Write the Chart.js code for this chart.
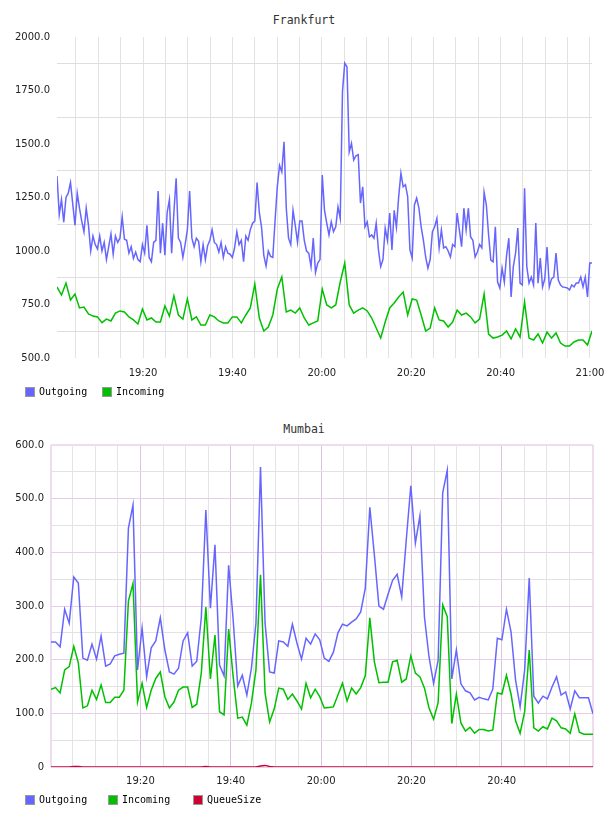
<!DOCTYPE html>
<html>
<head>
<meta charset="utf-8">
<title>Frankfurt / Mumbai traffic</title>
<script src="https://cdn.jsdelivr.net/npm/chart.js@4.4.0/dist/chart.umd.min.js"></script>
<style>
    body { margin: 0; background: #fff; width: 608px; height: 816px; position: relative; overflow: hidden; }
    .panel { position: absolute; left: 0; }
    .title { position: absolute; left: 0; width: 608px; text-align: center; line-height: 14px;
             font: 11.5px "DejaVu Sans Mono", monospace; color: #333; }
    .legend-item { position: absolute; line-height: 12px; font: 10px "DejaVu Sans Mono", monospace; color: #000; white-space: nowrap; }
    .legend-box { position: absolute; width: 8px; height: 8px; border: 1px solid #999; }
</style>
</head>
<body>
<div class="title" style="top:13px">Frankfurt</div>
<canvas id="frankfurt" class="panel" style="top:0" width="608" height="405"></canvas>
<div id="frankfurtLegend"></div>

<div class="title" style="top:422px">Mumbai</div>
<canvas id="mumbai" class="panel" style="top:405px" width="608" height="411"></canvas>
<div id="mumbaiLegend"></div>

<script>
// Time axis is in minutes after 19:00
const xLabelMinutes = [20, 40, 60, 80, 100, 120];
const xLabelTexts = ['19:20', '19:40', '20:00', '20:20', '20:40', '21:00'];

// Frankfurt: samples spread evenly between these two times
const frankStart = 0.75;
const frankEnd = 120.45;

const frankOutgoing = [
    1350, 1170, 1240, 1135, 1250, 1270, 1320, 1220, 1120, 1270,
    1200, 1140, 1090, 1200, 1120, 1000, 1070, 1030, 1010, 1070,
    1000, 1040, 960, 1020, 1080, 985, 1070, 1040, 1060, 1160,
    1055, 1050, 990, 1020, 965, 995, 960, 950, 1030, 990,
    1120, 970, 950, 1040, 1050, 1280, 990, 1130, 980, 1180,
    1240, 990, 1180, 1340, 1060, 1040, 970, 1030, 1100, 1280,
    1060, 1020, 1060, 1045, 950, 1030, 960, 1025, 1050, 1100,
    1040, 1030, 995, 1040, 970, 1020, 990, 985, 970, 1015,
    1090, 1030, 1050, 950, 1070, 1050, 1100, 1130, 1140, 1320,
    1180, 1110, 980, 930, 1000, 975, 970, 1140, 1300, 1400,
    1370, 1510, 1200, 1060, 1030, 1190, 1120, 1040, 1140, 1140,
    1050, 1000, 990, 927, 1060, 900, 944, 960, 1355, 1190,
    1130, 1075, 1136, 1090, 1113, 1206, 1152, 1745, 1878, 1860,
    1463, 1503, 1425, 1445, 1450, 1224, 1300, 1113, 1136, 1066,
    1075, 1060, 1130, 1005, 927, 960, 1107, 1050, 1177, 1005,
    1190, 1110, 1254, 1364, 1300, 1310, 1254, 1005, 967, 1215,
    1247, 1200, 1113, 1050, 972, 920, 960, 1090, 1113, 1152,
    1014, 1098, 1014, 1020, 1000, 972, 1030, 1020, 1177, 1098,
    1020, 1200, 1098, 1200, 1066, 1050, 972, 995, 1030, 1014,
    1275, 1215, 1075, 958, 950, 1113, 855, 827, 920, 855,
    980, 1060, 785, 927, 990, 1107, 850, 841, 1293, 927,
    850, 878, 841, 1131, 850, 967, 832, 870, 1019, 832,
    870, 878, 990, 864, 841, 832, 830, 827, 818, 841,
    832, 850, 850, 878, 832, 878, 785, 944, 944
];

const frankIncoming = [
    832, 794, 850, 771, 799, 734, 738, 706, 696, 692,
    665, 682, 673, 710, 720, 715, 692, 678, 659, 729,
    678, 687, 668, 668, 743, 696, 790, 701, 682, 776,
    678, 692, 654, 654, 701, 692, 673, 664, 664, 692,
    692, 664, 701, 734, 846, 687, 626, 645, 701, 822,
    879, 715, 724, 710, 734, 687, 654, 664, 673, 822,
    748, 734, 748, 855, 944, 748, 710, 724, 734, 720,
    687, 640, 593, 668, 734, 757, 785, 808, 701, 776,
    771, 701, 626, 640, 734, 678, 673, 645, 668, 724,
    701, 710, 692, 664, 682, 799, 612, 593, 598, 607,
    626, 589, 636, 598, 762, 593, 584, 612, 570, 621,
    593, 617, 570, 556, 556, 575, 584, 584, 561, 626
];

const frankYTicks = [500, 625, 750, 875, 1000, 1125, 1250, 1375, 1500, 1625, 1750, 1875, 2000];
const frankXTicks = [5, 10, 15, 20, 25, 30, 35, 40, 45, 50, 55, 60, 65, 70, 75, 80, 85, 90, 95, 100, 105, 110, 115, 120];

// Mumbai: samples spread evenly between these two times
const mumbaiStart = 0.2;
const mumbaiEnd = 120.2;

const mumbaiOutgoing = [
    233, 233, 224, 294, 268, 354, 343, 203, 199, 229,
    201, 244, 188, 192, 207, 210, 212, 445, 488, 181,
    259, 168, 222, 235, 278, 218, 177, 173, 184, 235,
    250, 188, 197, 278, 479, 296, 414, 190, 170, 376,
    274, 151, 171, 134, 184, 268, 559, 268, 177, 175,
    235, 233, 225, 266, 231, 201, 240, 229, 248, 237,
    203, 197, 214, 250, 266, 263, 270, 276, 289, 333,
    484, 395, 300, 294, 322, 348, 359, 317, 423, 524,
    417, 468, 279, 205, 156, 199, 511, 553, 164, 218,
    155, 142, 138, 125, 130, 127, 125, 145, 240, 237,
    294, 252, 162, 112, 181, 352, 132, 119, 132, 127,
    149, 168, 134, 140, 108, 142, 129, 129, 129, 99
];

const mumbaiIncoming = [
    145, 148, 138, 181, 187, 225, 194, 110, 114, 143,
    126, 153, 120, 120, 130, 130, 143, 309, 342, 121,
    156, 111, 143, 165, 177, 131, 110, 121, 143, 149,
    149, 111, 117, 175, 298, 164, 246, 103, 97, 257,
    168, 91, 93, 78, 119, 181, 358, 138, 84, 108,
    147, 145, 126, 136, 123, 108, 156, 129, 145, 131,
    110, 111, 112, 134, 156, 123, 147, 136, 148, 170,
    278, 196, 157, 158, 158, 196, 199, 158, 164, 207,
    175, 168, 147, 110, 89, 120, 302, 280, 81, 136,
    82, 67, 74, 63, 70, 70, 67, 69, 138, 136,
    171, 136, 86, 63, 103, 218, 73, 67, 75, 71,
    91, 86, 73, 71, 63, 99, 65, 61, 61, 61
];

const mumbaiQueueSize = [
    0, 0, 0, 0, 0, 1, 1, 0, 0, 0,
    0, 0, 0, 0, 0, 0, 0, 0, 0, 0,
    0, 0, 0, 0, 0, 0, 0, 0, 0, 0,
    0, 0, 0, 0, 1, 0, 0, 0, 0, 0,
    0, 0, 0, 0, 0, 0, 2, 3, 1, 0,
    0, 0, 0, 0, 0, 0, 0, 0, 0, 0,
    0, 0, 0, 0, 0, 0, 0, 0, 0, 0,
    0, 0, 0, 0, 0, 0, 0, 0, 0, 0,
    0, 0, 0, 0, 0, 0, 0, 0, 0, 0,
    0, 0, 0, 0, 0, 0, 0, 0, 0, 0,
    0, 0, 0, 0, 0, 0, 0, 0, 0, 0,
    0, 0, 0, 0, 0, 0, 0, 0, 0, 0
];

const mumbaiYTicks = [0, 50, 100, 150, 200, 250, 300, 350, 400, 450, 500, 550, 600];
const mumbaiXTicks = [5, 10, 15, 20, 25, 30, 35, 40, 45, 50, 55, 60, 65, 70, 75, 80, 85, 90, 95, 100, 105, 110, 115];

const seriesColors = { Outgoing: '#6666ff', Incoming: '#00c000', QueueSize: '#cc0033' };

const tickFont = { family: '"DejaVu Sans", sans-serif', size: 10 };
const tickColor = '#222';

/**
 * Turns a list of samples into {x, y} points spread evenly over [start, end]
 */
function toPoints(values, start, end) {
    const step = (end - start) / (values.length - 1);
    return values.map((v, i) => ({ x: start + i * step, y: v }));
}

function xLabel(value) {
    const idx = xLabelMinutes.indexOf(Math.round(value * 100) / 100);
    return idx >= 0 ? xLabelTexts[idx] : '';
}

function lineDataset(label, values, start, end) {
    return {
        label: label,
        data: toPoints(values, start, end),
        borderColor: seriesColors[label],
        backgroundColor: seriesColors[label],
        borderWidth: 1.5,
        pointRadius: 0,
        tension: 0,
        fill: false
    };
}

/**
 * Fixed axis size; the edge label overflow must not shrink the plot area
 */
function fixHeight(height) {
    return scale => {
        scale.height = height;
        scale.paddingLeft = 0;
        scale.paddingRight = 0;
    };
}

/**
 * Small legend row under a chart: coloured box + monospace label
 */
function buildLegend(containerId, items, centerY) {
    const container = document.getElementById(containerId);
    items.forEach(item => {
        const box = document.createElement('div');
        box.className = 'legend-box';
        box.style.left = item.x + 'px';
        box.style.top = (centerY - 5) + 'px';
        box.style.background = seriesColors[item.label];
        container.appendChild(box);

        const text = document.createElement('div');
        text.className = 'legend-item';
        text.style.left = (item.x + 14) + 'px';
        text.style.top = (centerY - 6) + 'px';
        text.textContent = item.label;
        container.appendChild(text);
    });
}

function initFrankfurtChart() {
    const ctx = document.getElementById('frankfurt').getContext('2d');
    return new Chart(ctx, {
        type: 'line',
        data: {
            datasets: [
                lineDataset('Outgoing', frankOutgoing, frankStart, frankEnd),
                lineDataset('Incoming', frankIncoming, frankStart, frankEnd)
            ]
        },
        options: {
            responsive: false,
            animation: false,
            layout: { padding: { top: 37, right: 16, bottom: 22, left: 0 } },
            plugins: { legend: { display: false }, tooltip: { enabled: false } },
            scales: {
                x: {
                    type: 'linear',
                    min: frankStart,
                    max: frankEnd,
                    afterBuildTicks: scale => { scale.ticks = frankXTicks.map(v => ({ value: v })); },
                    afterFit: fixHeight(25),
                    ticks: {
                        autoSkip: false,
                        maxRotation: 0,
                        padding: 9,
                        font: tickFont,
                        color: tickColor,
                        callback: value => xLabel(value)
                    },
                    grid: { color: '#e2e2e2', drawTicks: false },
                    border: { display: false }
                },
                y: {
                    min: 500,
                    max: 2000,
                    afterBuildTicks: scale => { scale.ticks = frankYTicks.map(v => ({ value: v })); },
                    afterFit: scale => { scale.width = 57; },
                    ticks: {
                        autoSkip: false,
                        padding: 7,
                        font: tickFont,
                        color: tickColor,
                        callback: value => (value % 250 === 0 ? value.toFixed(1) : '')
                    },
                    grid: {
                        drawTicks: false,
                        // grid lines sit between the labelled values
                        color: c => (c.tick && c.tick.value % 250 === 0 ? 'rgba(0,0,0,0)' : '#dedede')
                    },
                    border: { display: false }
                }
            }
        }
    });
}

function initMumbaiChart() {
    const ctx = document.getElementById('mumbai').getContext('2d');
    const edges = [mumbaiStart, mumbaiEnd];
    return new Chart(ctx, {
        type: 'line',
        data: {
            datasets: [
                lineDataset('Outgoing', mumbaiOutgoing, mumbaiStart, mumbaiEnd),
                lineDataset('Incoming', mumbaiIncoming, mumbaiStart, mumbaiEnd),
                lineDataset('QueueSize', mumbaiQueueSize, mumbaiStart, mumbaiEnd)
            ]
        },
        options: {
            responsive: false,
            animation: false,
            layout: { padding: { top: 40, right: 15, bottom: 24, left: 0 } },
            plugins: { legend: { display: false }, tooltip: { enabled: false } },
            scales: {
                x: {
                    type: 'linear',
                    min: mumbaiStart,
                    max: mumbaiEnd,
                    afterBuildTicks: scale => {
                        scale.ticks = [mumbaiStart].concat(mumbaiXTicks, [mumbaiEnd]).map(v => ({ value: v }));
                    },
                    afterFit: fixHeight(25),
                    ticks: {
                        autoSkip: false,
                        maxRotation: 0,
                        padding: 8,
                        font: tickFont,
                        color: tickColor,
                        callback: value => (edges.includes(value) ? '' : xLabel(value))
                    },
                    grid: {
                        drawTicks: false,
                        color: c => {
                            const v = c.tick ? c.tick.value : 0;
                            if (edges.includes(v)) return '#efdcef';
                            return xLabelMinutes.includes(v) ? '#dcc4dc' : '#e4e4e4';
                        },
                        lineWidth: c => (c.tick && edges.includes(c.tick.value) ? 2 : 1)
                    },
                    border: { display: false }
                },
                y: {
                    min: 0,
                    max: 600,
                    afterBuildTicks: scale => { scale.ticks = mumbaiYTicks.map(v => ({ value: v })); },
                    afterFit: scale => { scale.width = 51; },
                    ticks: {
                        autoSkip: false,
                        padding: 7,
                        font: tickFont,
                        color: tickColor,
                        callback: value => {
                            if (value % 100 !== 0) return '';
                            return value === 0 ? '0' : value.toFixed(1);
                        }
                    },
                    grid: {
                        drawTicks: false,
                        color: c => {
                            const v = c.tick ? c.tick.value : 0;
                            if (v === 600) return '#efdcef';
                            return v % 100 === 0 ? '#e8cce8' : '#e2e2e2';
                        },
                        lineWidth: c => (c.tick && c.tick.value === 600 ? 2 : 1)
                    },
                    border: { display: false }
                }
            }
        }
    });
}

initFrankfurtChart();
initMumbaiChart();

buildLegend('frankfurtLegend', [
    { label: 'Outgoing', x: 25 },
    { label: 'Incoming', x: 102 }
], 392);

buildLegend('mumbaiLegend', [
    { label: 'Outgoing', x: 25 },
    { label: 'Incoming', x: 108 },
    { label: 'QueueSize', x: 193 }
], 800);
</script>
</body>
</html>
